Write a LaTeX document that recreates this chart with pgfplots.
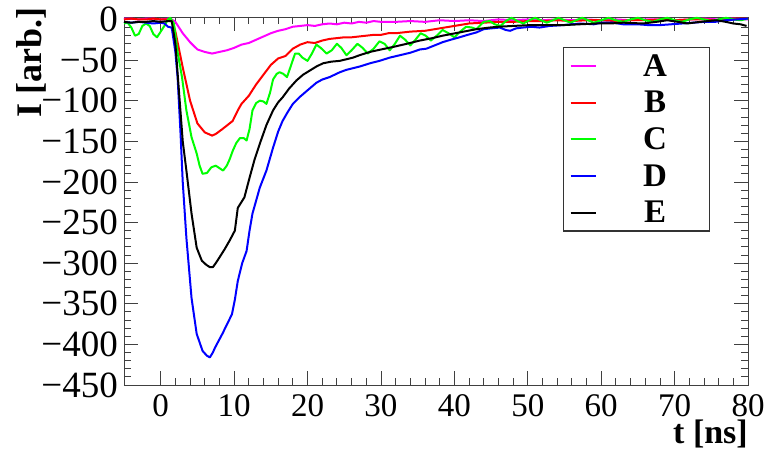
\documentclass[border=0pt]{standalone}
\usepackage{fontspec}
\setmainfont{Liberation Serif}
\usepackage{pgfplots}
\pgfplotsset{compat=1.18}

\definecolor{cA}{RGB}{255,0,255}
\definecolor{cB}{RGB}{255,0,0}
\definecolor{cC}{RGB}{0,255,0}
\definecolor{cD}{RGB}{0,0,255}
\definecolor{cE}{RGB}{0,0,0}
\newcommand{\xtl}{\fontsize{33}{36}\selectfont}
\newcommand{\ytl}{\fontsize{37}{40}\selectfont}

\begin{document}
\begin{tikzpicture}
\begin{axis}[
    at={(0pt,0pt)}, anchor=south west,
    scale only axis, width=624pt, height=368pt,
    xmin=-5, xmax=80, ymin=-450, ymax=3,
    xtick={0,10,...,80}, ytick={-450,-400,...,0},
    minor x tick num=4, minor y tick num=4,
    tick pos=both, xticklabel pos=lower, yticklabel pos=left,
    tick align=inside, major tick length=14pt, minor tick length=7pt,
    axis line style={black!75, line width=0.8pt},
    tick style={black!75, line width=0.8pt},
    /pgf/number format/assume math mode=true,
    tick label style={inner sep=0pt},
    xticklabel style={yshift=-9pt},
    yticklabel style={xshift=-6pt},
    xticklabel={\xtl\pgfmathtruncatemacro\s{\tick}\s},
    yticklabel={\ytl\pgfmathtruncatemacro\s{\tick}\ifnum\s<0 −\pgfmathtruncatemacro\v{-\s}\v\else\s\fi},
    xlabel={\textbf{t [ns]}},
    ylabel={\textbf{I [arb.]}},
    label style={inner sep=0pt},
    xlabel style={font=\fontsize{34}{36}\selectfont, at={(rel axis cs:1,-0.16)}, anchor=base east},
    ylabel style={font=\fontsize{36}{38}\selectfont, at={(rel axis cs:-0.132,1.027)}, anchor=base east},
    legend style={at={(rel axis cs:0.7035,0.9185)}, anchor=north west,
        draw=black!80, line width=1.2pt, inner xsep=6pt, inner ysep=0pt,
        row sep=0pt, fill=white,
        font=\fontsize{33}{36}\selectfont\bfseries,
        nodes={inner sep=0pt, minimum height=36.7pt},
        /tikz/every odd column/.append style={column sep=10pt}},
    legend cell align=left,
    legend image code/.code={\draw[#1] (0pt,0pt) -- (25pt,0pt);},
    every axis plot/.append style={line width=2pt, line join=round},
]

% A
\addplot[cA] coordinates {
(-5,1) (-4,1) (-3,0) (-2,1) (-1,1) (0,0) (1,1) (1.5,0) (2,-3) (3,-17) (4,-28)
(5,-37) (6,-40) (7,-42) (8,-40) (9,-38) (10,-35) (11,-31) (12,-29) (13,-25)
(14,-21) (15,-17) (16,-14) (17,-12) (18,-9) (19,-8) (20,-7) (21,-8) (22,-6)
(23,-5) (24,-6) (25,-4) (26,-5) (27,-3) (28,-4) (29,-2) (30,-3) (32,-3) (34,-2)
(36,-3) (38,-1) (40,-2) (42,-1) (44,-2) (46,0) (48,-1) (50,0) (52,-1) (54,0)
(56,-1) (58,0) (60,-1) (62,0) (64,-1) (66,0) (68,0) (70,-1) (72,0) (74,1)
(76,0) (78,1) (80,0)
};
\addlegendentry{\makebox[97pt]{A}}

% B
\addplot[cB] coordinates {
(-5,0) (-4,1) (-3,0) (-2,0) (-1,1) (0,0) (1,0) (1.6,-2) (2,-15) (3,-59) (4,-100)
(5,-128) (6,-139) (7,-143) (7.5,-141) (8.4,-135) (9.8,-125) (10.5,-112)
(11,-104) (12,-94) (13,-80) (14,-68) (15,-56) (16,-48) (17,-45) (18,-36)
(19,-31) (20,-28) (21,-29) (22,-26) (23,-24) (24,-23) (25,-22) (26,-22)
(27,-21) (28,-20) (29,-19) (30,-19) (31,-17) (32,-17) (34,-15) (36,-14)
(38,-11) (40,-8) (42,-5) (44,-4) (46,-3) (48,-3) (50,-2) (52,-2) (54,-1)
(56,-2) (58,-1) (60,-1) (62,-2) (64,-1) (66,-1) (68,0) (70,-1) (72,0) (74,0)
(76,-1) (78,1) (80,1)
};
\addlegendentry{\makebox[97pt]{B}}

% C
\addplot[cC] coordinates {
(-5,-5) (-4.5,-4) (-4,-10) (-3.5,-20) (-3,-18) (-2.5,-8) (-2,-5) (-1.5,-8)
(-1,-18) (-0.5,-22) (0,-15) (0.5,-8) (1,0) (1.3,2) (1.8,-5) (2.3,-40)
(2.9,-71) (3.5,-112) (4.2,-145) (4.9,-165) (5.3,-180) (5.7,-190) (6.3,-189)
(6.9,-182) (7.5,-180) (8,-183) (8.5,-186) (9,-180) (9.4,-172) (9.8,-162)
(10.3,-152) (10.8,-146) (11.3,-146) (11.7,-149) (12.1,-135) (12.5,-112)
(13,-103) (13.5,-100) (14,-101) (14.4,-104) (14.9,-90) (15.3,-74) (15.8,-67)
(16.2,-65) (16.7,-67) (17.2,-71) (17.7,-58) (18.3,-42) (18.8,-42) (19.3,-47)
(20,-51) (20.6,-42) (21.2,-31) (21.8,-35) (22.6,-42) (23.3,-38) (24,-30)
(24.6,-35) (25.3,-44) (26,-38) (26.8,-30) (27.5,-35) (28.2,-42) (29,-36)
(29.8,-27) (30.5,-30) (31.2,-38) (31.9,-30) (32.6,-20) (33.3,-25) (34,-32)
(34.7,-25) (35.4,-17) (36.1,-20) (36.8,-26) (37.6,-20) (38.4,-13) (39.2,-17)
(40,-22) (40.8,-15) (41.6,-9) (42.4,-10) (43,-12) (44,-3) (44.8,-2) (45.5,-6)
(46.3,-8) (47,-2) (47.8,2) (48.6,-2) (49.4,-5) (50.2,-1) (51,2) (51.8,-1)
(52.6,-4) (53.4,-1) (54.2,2) (55,-1) (55.8,-4) (56.6,-1) (57.4,2) (58.2,-1)
(59,-4) (60,-1) (61,2) (62,-1) (63,-3) (64,0) (65,2) (66,-1) (67,-3) (68,0)
(69,2) (70,-1) (71,-3) (72,0) (73,2) (74,0) (75,-2) (76,0) (77,2) (78,0)
(79,-1) (80,1)
};
\addlegendentry{\makebox[97pt]{C}}

% D
\addplot[cD] coordinates {
(-5,-3) (-4,-4) (-3,-3) (-2,-4) (-1,-5) (0,-4) (0.5,-5) (1,-9) (1.5,-10)
(2,-40) (2.3,-71) (2.7,-140) (3,-200) (3.5,-269) (4.2,-343) (4.9,-387)
(5.7,-408) (6.3,-414) (6.7,-416) (7.1,-410) (7.4,-404) (8.4,-387) (9.7,-363)
(10.1,-345) (10.5,-322) (11.1,-300) (11.7,-285) (12.1,-260) (12.5,-239)
(13.5,-207) (14.4,-186) (15.3,-158) (16,-138) (16.6,-125) (17.3,-114)
(18,-104) (19,-95) (19.9,-88) (21.2,-78) (22,-74) (23,-71) (24.4,-65)
(25.3,-62) (26.2,-60) (27.1,-58) (28.5,-54) (29.8,-51) (31.2,-47) (32.6,-44)
(34,-41) (35.3,-37) (36.2,-36) (37.3,-32) (38.4,-28) (39.5,-25) (40.7,-22)
(41.8,-19) (43,-16) (44,-12) (45,-11) (46.2,-10) (47,-13) (47.6,-14)
(48.4,-11) (49.3,-10) (50.5,-9) (51.6,-10) (53,-8) (54.8,-7) (56,-6)
(57.1,-5) (59,-6) (60,-4) (61.6,-4) (63,-6) (65,-6) (66.5,-7) (68,-7)
(69.5,-6) (71,-5) (72.5,-4) (74,-3) (75.5,-3) (77,-1) (78.5,0) (80,1)
};
\addlegendentry{\makebox[97pt]{D}}

% E
\addplot[cE] coordinates {
(-5,-3) (-4,-4) (-3,-3) (-2,-3) (-1,-2) (0,-3) (1,-2) (1.5,-2) (2,-30)
(2.5,-90) (3,-150) (3.5,-186) (4.2,-239) (4.9,-281) (5.6,-297) (6.2,-302)
(6.7,-305) (7.1,-305) (7.5,-300) (8,-293) (8.7,-283) (9.4,-272) (10.1,-260)
(10.5,-232) (11.4,-219) (12.1,-195) (12.8,-172) (13.5,-153) (14.4,-130)
(15.3,-112) (16,-102) (16.6,-96) (17.5,-85) (18.5,-75) (19.4,-68) (20.3,-63)
(21.2,-58) (22.1,-54) (23.2,-52) (24.4,-51) (25.3,-49) (26.2,-47) (27.1,-44)
(28.5,-40) (30,-37) (31.6,-34) (33.5,-30) (35.3,-26) (37,-23) (38.4,-20)
(40.7,-16) (43,-12) (44.8,-10) (46,-9) (48,-8) (50.3,-7) (52,-7) (54.8,-7)
(57,-6) (59.4,-5) (61.2,-5) (63,-4) (65.7,-5) (67.5,-3) (69,-1) (70.5,-3)
(71.7,-5) (73.5,-3) (75.7,-1) (77,-3) (78,-5) (79,-6) (79.8,-8)
};
\addlegendentry{\makebox[97pt]{E}}

\end{axis}
\pgfresetboundingbox
\path[use as bounding box] (-124pt,-70pt) rectangle (643pt,385pt);
\end{tikzpicture}
\end{document}
